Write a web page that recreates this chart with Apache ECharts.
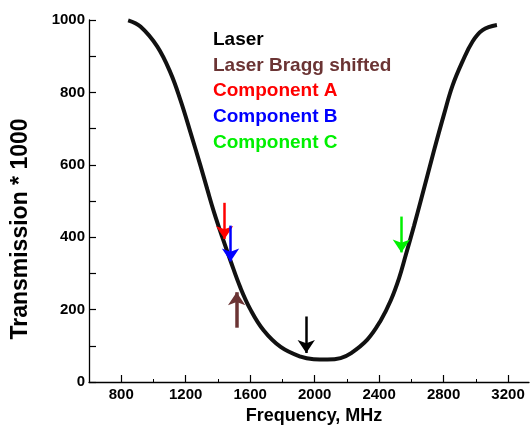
<!DOCTYPE html>
<html>
<head>
<meta charset="utf-8">
<script src="https://cdn.jsdelivr.net/npm/echarts@6/dist/echarts.min.js"></script>
<style>
html,body{margin:0;padding:0;background:#fff;}
#c{width:532px;height:432px;}
</style>
</head>
<body>
<div id="c"></div>
<script>
// Curve data (Frequency MHz, Transmission*1000)
var freq  = [843, 919, 1023, 1106, 1168, 1230, 1292, 1334, 1375, 1427, 1478, 1540, 1602, 1683, 1789, 1913, 1994, 2079, 2161, 2224, 2327, 2410, 2472, 2524, 2565, 2617, 2658, 2741, 2803, 2855, 2917, 2979, 3042, 3131];
var trans = [999, 982, 927, 854, 778, 689, 597, 532, 470, 400, 335, 260, 200, 143, 97, 70, 63, 62, 66, 79, 117, 170, 225, 287, 350, 432, 500, 640, 740, 818, 885, 940, 972, 986];

// Arrows (annotations)
var arrowNames = ["Laser", "Laser Bragg shifted", "Component A", "Component B", "Component C"];
var arrowColors = ["#000000", "#6b3434", "#ff0000", "#0000ff", "#00f000"];
var arrowX    = [1948, 1516, 1441, 1478, 2538];
var arrowFrom = [181, 150, 495, 432, 457];
var arrowTo   = [80, 248, 395, 333, 358];

// Axis tick values
var xMajor = [800, 1200, 1600, 2000, 2400, 2800, 3200];
var xMinor = [1000, 1400, 1800, 2200, 2600, 3000];

var FONT = "'Liberation Sans', Arial, sans-serif";

var curve = freq.map(function (f, i) { return [f, trans[i]]; });
var arrowData = arrowX.map(function (x, i) {
  return { coords: [[x, arrowFrom[i]], [x, arrowTo[i]]],
           lineStyle: { color: arrowColors[i], width: i === 1 ? 3.5 : 2.5, opacity: 1 } };
});

var graphics = arrowNames.map(function (n, i) {
  return { type: 'text', left: 213, top: 30 + i * 25.8,
    style: { text: n, fill: arrowColors[i], font: 'bold 19px ' + FONT } };
});
graphics.push({ type: 'text', x: 21, y: 229, rotation: Math.PI / 2,
  style: { text: 'Transmission * 1000', fill: '#000', font: 'bold 23px ' + FONT, align: 'center', verticalAlign: 'middle' } });
graphics.push({ type: 'text', x: 314, y: 416,
  style: { text: 'Frequency, MHz', fill: '#000', font: 'bold 18px ' + FONT, align: 'center', verticalAlign: 'middle' } });

function plain(v) { return String(v); }

var chart = echarts.init(document.getElementById('c'), null, { renderer: 'canvas' });
chart.setOption({
  animation: false,
  backgroundColor: '#fff',
  grid: { left: 89, right: 3, top: 20, bottom: 50, containLabel: false },
  xAxis: [{
    type: 'value', min: 600, max: 3330,
    axisLine: { show: true, lineStyle: { color: '#000', width: 1.3 } },
    axisTick: { show: true, inside: true, length: 7, customValues: xMajor, lineStyle: { color: '#000', width: 1.2 } },
    axisLabel: { show: true, customValues: xMajor, formatter: plain, margin: 5, color: '#000', fontSize: 15, fontWeight: 'bold', fontFamily: FONT },
    splitLine: { show: false }
  }, {
    type: 'value', min: 600, max: 3330, position: 'bottom',
    axisLine: { show: false },
    axisTick: { show: true, inside: true, length: 3, customValues: xMinor, lineStyle: { color: '#000', width: 1 } },
    axisLabel: { show: false },
    splitLine: { show: false }
  }],
  yAxis: [{
    type: 'value', min: 0, max: 1000, interval: 200,
    axisLine: { show: true, lineStyle: { color: '#000', width: 1.3 } },
    axisTick: { show: true, inside: true, length: 7, lineStyle: { color: '#000', width: 1.2 } },
    minorTick: { show: true, splitNumber: 2, length: 7, lineStyle: { color: '#000', width: 1.2 } },
    axisLabel: { margin: 4, formatter: plain, color: '#000', fontSize: 15, fontWeight: 'bold', fontFamily: FONT },
    splitLine: { show: false }
  }],
  graphic: graphics,
  series: [{
    type: 'line', data: curve, smooth: 0.4, showSymbol: false,
    lineStyle: { color: '#111', width: 4 }, z: 2
  }, {
    type: 'lines', coordinateSystem: 'cartesian2d', polyline: false,
    symbol: ['none', 'arrow'], symbolSize: 13,
    lineStyle: { opacity: 1 },
    data: arrowData, z: 3
  }]
});
</script>
</body>
</html>
